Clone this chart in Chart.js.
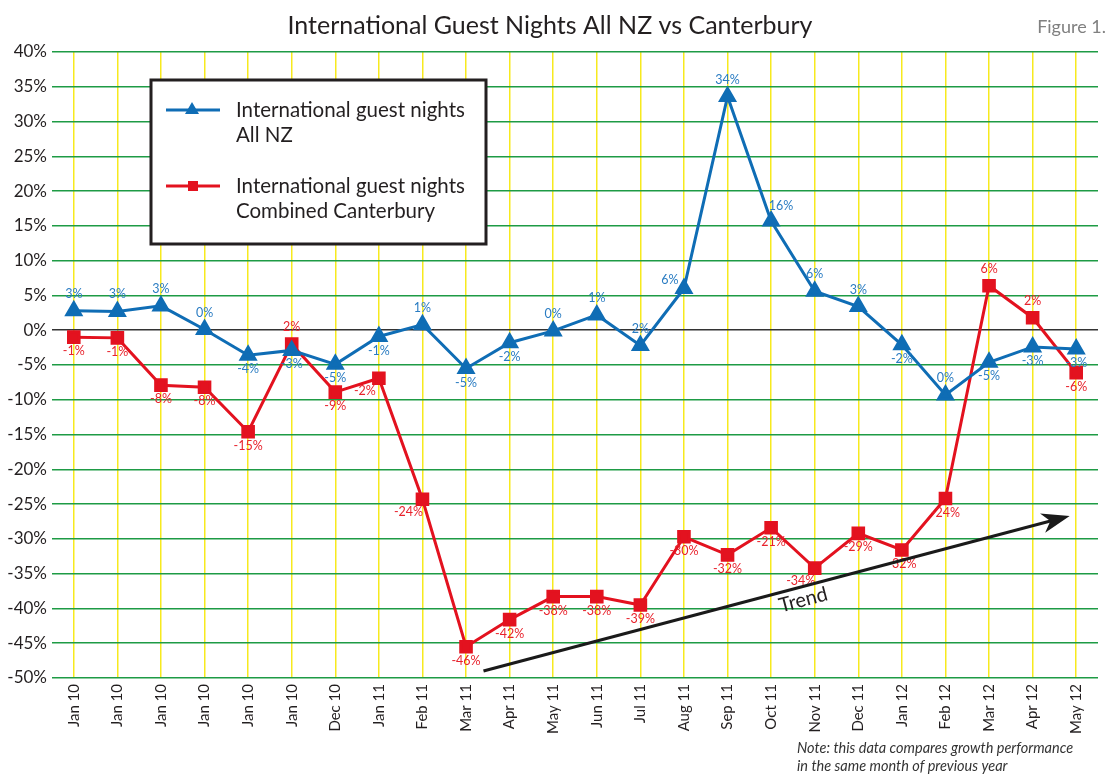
<!DOCTYPE html>
<html>
<head>
<meta charset="utf-8">
<script src="https://cdn.jsdelivr.net/npm/chart.js@4.4.0/dist/chart.umd.min.js"></script>
<style>
  html, body { margin: 0; padding: 0; background: #fff; }
  #wrap { width: 1109px; height: 774px; position: relative; }
</style>
</head>
<body>
<div id="wrap"><canvas id="guestChart" width="1109" height="774"></canvas></div>
<script>
const months = ["Jan 10", "Jan 10", "Jan 10", "Jan 10", "Jan 10", "Jan 10", "Dec 10", "Jan 11",
    "Feb 11", "Mar 11", "Apr 11", "May 11", "Jun 11", "Jul 11", "Aug 11", "Sep 11", "Oct 11",
    "Nov 11", "Dec 11", "Jan 12", "Feb 12", "Mar 12", "Apr 12", "May 12"];

const allNZ = [2.8, 2.7, 3.5, 0.1, -3.6, -2.9, -4.9, -0.9, 0.8, -5.5, -1.8, -0.1,
    2.2, -2.2, 6.0, 33.6, 15.7, 5.6, 3.4, -2.1, -9.3, -4.6, -2.4, -2.7];
const canterbury = [-1.0, -1.1, -7.9, -8.2, -14.6, -2.0, -8.9, -6.9, -24.3, -45.5, -41.6, -38.3,
    -38.3, -39.5, -29.7, -32.3, -28.4, -34.2, -29.2, -31.6, -24.2, 6.4, 1.8, -6.1];

// printed point labels, as shown on the figure
const allNZText = ["3%", "3%", "3%", "0%", "-4%", "-3%", "-5%", "-1%", "1%", "-5%", "-2%", "0%",
    "1%", "2%", "6%", "34%", "16%", "6%", "3%", "-2%", "0%", "-5%", "-3%", "-3%"];
const canterburyText = ["-1%", "-1%", "-8%", "-8%", "-15%", "2%", "-9%", "-2%", "-24%", "-46%", "-42%", "-38%",
    "-38%", "-39%", "-30%", "-32%", "-21%", "-34%", "-29%", "-32%", "-24%", "6%", "2%", "-6%"];

const yTicks = [40, 35, 30, 25, 20, 15, 10, 5, 0, -5, -10, -15, -20, -25, -30, -35, -40, -45, -50];

// trend arrow, in (category index, percent)
const trendFrom = [9.4, -49.0];
const trendTo = [22.85, -26.7];

// where each label sits relative to its marker
const allNZPos = ["a", "a", "a", "a", "b", "b", "b", "b", "a", "b", "b", "a",
    "a", "a", "al", "a", "ar", "a", "a", "b", "a", "b", "b", "b"];
const canterburyPos = ["b", "b", "b", "b", "b", "a", "b", "bl", "bl", "b", "b", "b",
    "b", "b", "b", "b", "b", "bl", "b", "b", "b", "a", "a", "b"];

const BLUE = "#0f6db5";
const RED = "#e3121f";
const FONT = "Lato, 'Noto Sans', sans-serif";

const offsets = {
    a: [0, -17], b: [0, 14], al: [-14, -9], ar: [10, -15], bl: [-14, 13]
};

const pointLabels = {
    id: "pointLabels",
    afterDatasetsDraw(chart) {
        const c = chart.ctx;
        const sets = [[allNZText, allNZPos, "#2a7cc2"], [canterburyText, canterburyPos, "#e8222c"]];
        c.save();
        c.font = "12.5px " + FONT;
        c.textAlign = "center";
        c.textBaseline = "middle";
        sets.forEach((s, di) => {
            const meta = chart.getDatasetMeta(di);
            c.fillStyle = s[2];
            meta.data.forEach((pt, i) => {
                const o = offsets[s[1][i]];
                c.fillText(s[0][i], pt.x + o[0], pt.y + o[1]);
            });
        });
        c.restore();
    }
};

const decorations = {
    id: "decorations",
    afterDraw(chart) {
        const c = chart.ctx;
        const xs = chart.scales.x, ys = chart.scales.y;
        c.save();
        // title
        c.fillStyle = "#231f20";
        c.font = "25px " + FONT;
        c.textAlign = "center";
        c.textBaseline = "middle";
        c.fillText("International Guest Nights All NZ vs Canterbury", 550, 26);
        c.fillStyle = "#808080";
        c.font = "18px " + FONT;
        c.textAlign = "right";
        c.fillText("Figure 1.", 1106, 27);

        // note
        c.fillStyle = "#333";
        c.font = "italic 14.5px " + FONT;
        c.textAlign = "left";
        c.fillText("Note: this data compares growth performance", 797, 748);
        c.fillText("in the same month of previous year", 797, 766);

        // trend arrow
        const x1 = xs.getPixelForValue(trendFrom[0]), y1 = ys.getPixelForValue(trendFrom[1]);
        const x2 = xs.getPixelForValue(trendTo[0]), y2 = ys.getPixelForValue(trendTo[1]);
        const ang = Math.atan2(y2 - y1, x2 - x1);
        c.strokeStyle = "#1a1a1a";
        c.fillStyle = "#1a1a1a";
        c.lineWidth = 3;
        c.beginPath();
        c.moveTo(x1, y1);
        c.lineTo(x2 - 14 * Math.cos(ang), y2 - 14 * Math.sin(ang));
        c.stroke();
        c.translate(x2, y2);
        c.rotate(ang);
        c.beginPath();
        c.moveTo(0, 0);
        c.lineTo(-28, -10);
        c.lineTo(-20, 0);
        c.lineTo(-28, 10);
        c.closePath();
        c.fill();
        c.setTransform(1, 0, 0, 1, 0, 0);
        const tx = x1 + (x2 - x1) * 0.54, ty = y1 + (y2 - y1) * 0.54;
        c.translate(tx, ty);
        c.rotate(ang);
        c.font = "20px " + FONT;
        c.textAlign = "center";
        c.textBaseline = "top";
        c.fillStyle = "#231f20";
        c.fillText("Trend", 0, 3);
        c.setTransform(1, 0, 0, 1, 0, 0);

        // legend box
        c.fillStyle = "#fff";
        c.fillRect(151, 80, 335, 164);
        c.strokeStyle = "#231f20";
        c.lineWidth = 3;
        c.strokeRect(151, 80, 335, 164);
        const items = [[BLUE, "triangle", ["International guest nights", "All NZ"], 110],
                       [RED, "rect", ["International guest nights", "Combined Canterbury"], 186]];
        items.forEach(it => {
            c.strokeStyle = it[0];
            c.fillStyle = it[0];
            c.lineWidth = 3;
            c.beginPath();
            c.moveTo(166, it[3]);
            c.lineTo(220, it[3]);
            c.stroke();
            if (it[1] === "triangle") {
                c.beginPath();
                c.moveTo(192, it[3] - 8);
                c.lineTo(199, it[3] + 4);
                c.lineTo(185, it[3] + 4);
                c.closePath();
                c.fill();
            } else {
                c.fillRect(188, it[3] - 5, 10, 10);
            }
            c.fillStyle = "#231f20";
            c.font = "20.5px " + FONT;
            c.textAlign = "left";
            c.textBaseline = "middle";
            c.fillText(it[2][0], 236, it[3]);
            c.fillText(it[2][1], 236, it[3] + 25);
        });
        c.restore();
    }
};

new Chart(document.getElementById("guestChart"), {
    type: "line",
    data: {
        labels: months,
        datasets: [{
            label: "International guest nights All NZ",
            data: allNZ,
            borderColor: BLUE,
            backgroundColor: BLUE,
            borderWidth: 3,
            pointStyle: "triangle",
            pointRadius: 8,
            tension: 0
        }, {
            label: "International guest nights Combined Canterbury",
            data: canterbury,
            borderColor: RED,
            backgroundColor: RED,
            borderWidth: 3,
            pointStyle: "rect",
            pointRadius: 7.5,
            tension: 0
        }]
    },
    options: {
        responsive: false,
        animation: false,
        layout: { padding: { top: 52, right: 0, left: 0, bottom: 0 } },
        plugins: {
            legend: { display: false },
            tooltip: { enabled: false }
        },
        scales: {
            x: {
                offset: true,
                afterFit(s) { s.height = 96; s.paddingLeft = 0; s.paddingRight = 0; },
                border: { display: false },
                grid: { offset: false, color: "#f7ea1e", lineWidth: 1.5, drawTicks: false },
                ticks: {
                    minRotation: 90, maxRotation: 90, autoSkip: false, padding: 6,
                    color: "#231f20", font: { family: FONT, size: 15 }
                }
            },
            y: {
                min: -50, max: 40,
                afterFit(s) { s.width = 52; },
                afterBuildTicks(s) { s.ticks = yTicks.map(v => ({ value: v })); },
                border: { display: false },
                grid: {
                    drawTicks: false,
                    lineWidth: 1.5,
                    color: ctx => ctx.tick && ctx.tick.value === 0 ? "#333" : "#1e9b45"
                },
                ticks: {
                    padding: 5,
                    color: "#231f20",
                    font: { family: FONT, size: 17 },
                    callback: v => v + "%"
                }
            }
        }
    },
    plugins: [pointLabels, decorations]
});
</script>
</body>
</html>
